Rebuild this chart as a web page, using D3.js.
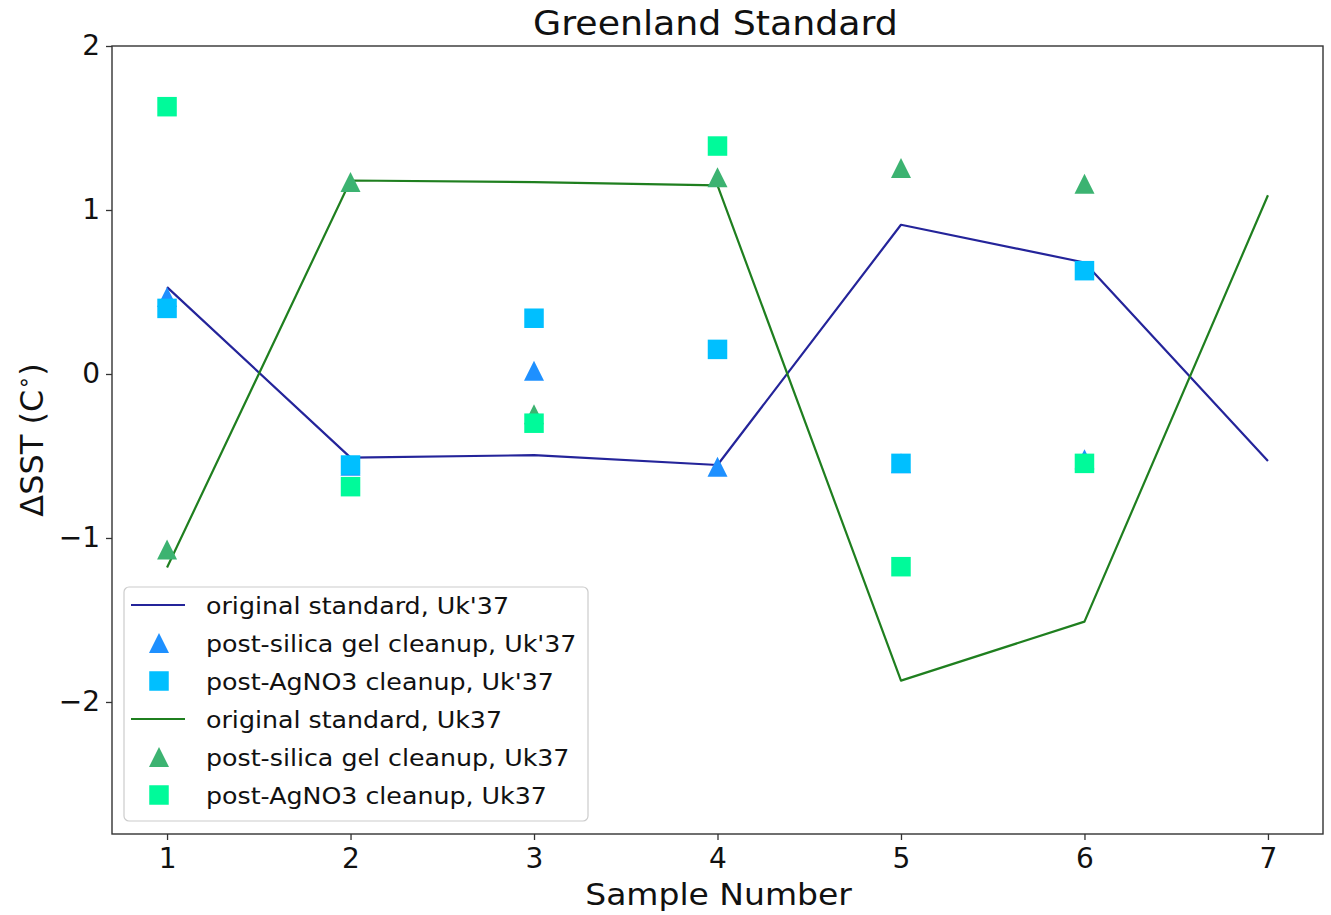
<!DOCTYPE html>
<html>
<head>
<meta charset="utf-8">
<script src="https://cdn.jsdelivr.net/npm/d3@7"></script>
<style>
  html, body { margin: 0; padding: 0; background: #fff; }
  svg { display: block; font-family: "DejaVu Sans", sans-serif; }
</style>
</head>
<body>
<svg id="chart" width="1331" height="915"></svg>
<script>
// ---- data ----
const samples = [1, 2, 3, 4, 5, 6, 7];
const origUkPrime = [0.53, -0.51, -0.495, -0.555, 0.91, 0.68, -0.53];
const silicaUkPrime = [0.47, -0.56, 0.02, -0.565, -0.545, -0.52];
const agno3UkPrime = [0.40, -0.555, 0.34, 0.15, -0.545, 0.63];
const origUk = [-1.18, 1.18, 1.17, 1.15, -1.87, -1.51, 1.09];
const silicaUk = [-1.07, 1.17, -0.245, 1.20, 1.256, 1.16];
const agno3Uk = [1.63, -0.687, -0.30, 1.39, -1.175, -0.545];
const xTicks = [1, 2, 3, 4, 5, 6, 7];
const yTicks = [-2, -1, 0, 1, 2];
const legendLabels = [
  "original standard, Uk'37",
  "post-silica gel cleanup, Uk'37",
  "post-AgNO3 cleanup, Uk'37",
  "original standard, Uk37",
  "post-silica gel cleanup, Uk37",
  "post-AgNO3 cleanup, Uk37"
];

const svg = d3.select("#chart");
const L = 112, R = 1323, T = 46, B = 834;
const x = d3.scaleLinear().domain([0.7, 7.3]).range([L, R]);
const y = d3.scaleLinear().domain([-2.805, 2]).range([B, T]);
const SX = 1.1; // horizontal glyph stretch seen in the reference text

const col = {
  line1: "#24249a",
  tri1: "#1e90ff",
  sq1: "#00bfff",
  line2: "#1f7f1f",
  tri2: "#3cb371",
  sq2: "#00fa9a"
};

const plot = svg.append("g");
const lineGen = d3.line().x((d, i) => x(samples[i])).y(d => y(d));
const triPath = "M0,-10L10,10L-10,10Z";
const sq = 19.5;

function drawLine(data, c) {
  plot.append("path").datum(data).attr("d", lineGen)
    .attr("fill", "none").attr("stroke", c).attr("stroke-width", 2.2)
    .attr("stroke-linejoin", "round");
}
function drawTri(data, c) {
  plot.selectAll(null).data(data).enter().append("path")
    .attr("d", triPath)
    .attr("transform", (d, i) => `translate(${x(samples[i])},${y(d)})`)
    .attr("fill", c);
}
function drawSq(data, c) {
  plot.selectAll(null).data(data).enter().append("rect")
    .attr("x", (d, i) => x(samples[i]) - sq / 2)
    .attr("y", d => y(d) - sq / 2)
    .attr("width", sq).attr("height", sq)
    .attr("fill", c);
}
drawLine(origUkPrime, col.line1);
drawTri(silicaUkPrime, col.tri1);
drawSq(agno3UkPrime, col.sq1);
drawLine(origUk, col.line2);
drawTri(silicaUk, col.tri2);
drawSq(agno3Uk, col.sq2);

// ---- axes ----
const xAxis = d3.axisBottom(x).tickValues(xTicks).tickSize(6).tickPadding(6).tickFormat(d3.format("d"));
const yAxis = d3.axisLeft(y).tickValues(yTicks).tickSize(6).tickPadding(6)
  .tickFormat(d => d < 0 ? "\u2212" + Math.abs(d) : String(d));

const gx = svg.append("g").attr("transform", `translate(0,${B})`).call(xAxis);
const gy = svg.append("g").attr("transform", `translate(${L},0)`).call(yAxis);
[gx, gy].forEach(g => {
  g.select(".domain").remove();
  g.selectAll(".tick line").attr("stroke", "#333").attr("stroke-width", 1.3);
  g.selectAll(".tick text").attr("fill", "#111").attr("font-size", 28)
    .attr("font-family", "DejaVu Sans, sans-serif");
});
gx.selectAll(".tick text").attr("dy", "0.78em");

// frame
svg.append("rect").attr("x", L).attr("y", T).attr("width", R - L).attr("height", B - T)
  .attr("fill", "none").attr("stroke", "#333").attr("stroke-width", 1.4);

function stretchedText(parent, tx, ty, str, size, anchor) {
  return parent.append("text")
    .attr("transform", `translate(${tx},${ty}) scale(${SX},1)`)
    .attr("text-anchor", anchor || "start")
    .attr("font-size", size).attr("fill", "#111").text(str);
}

// titles
stretchedText(svg, (L + R) / 2 - 2, 35, "Greenland Standard", 33, "middle");
stretchedText(svg, (L + R) / 2 + 1, 905, "Sample Number", 30, "middle");
const yl = svg.append("text").attr("transform", `translate(43,440) rotate(-90)`)
  .attr("text-anchor", "middle").attr("font-size", 32).attr("fill", "#111");
yl.append("tspan").text("\u0394SST (C");
yl.append("tspan").attr("font-size", 22).attr("dy", -12).text("\u2218");
yl.append("tspan").attr("dy", 12).text(")");

// ---- legend ----
const lg = svg.append("g");
lg.append("rect").attr("x", 124).attr("y", 587).attr("width", 464).attr("height", 234)
  .attr("rx", 5).attr("fill", "white").attr("fill-opacity", 0.8)
  .attr("stroke", "#cccccc").attr("stroke-width", 1.2);
const kinds = ["line", "tri", "sq", "line", "tri", "sq"];
const colors = [col.line1, col.tri1, col.sq1, col.line2, col.tri2, col.sq2];
legendLabels.forEach((lab, i) => {
  const cy = 605 + i * 38;
  if (kinds[i] === "line") {
    lg.append("line").attr("x1", 131).attr("x2", 185).attr("y1", cy).attr("y2", cy)
      .attr("stroke", colors[i]).attr("stroke-width", 2.2);
  } else if (kinds[i] === "tri") {
    lg.append("path").attr("d", triPath).attr("transform", `translate(159,${cy})`).attr("fill", colors[i]);
  } else {
    lg.append("rect").attr("x", 159 - sq / 2).attr("y", cy - sq / 2).attr("width", sq).attr("height", sq)
      .attr("fill", colors[i]);
  }
  stretchedText(lg, 206, cy + 8.5, lab, 23, "start");
});
</script>
</body>
</html>
